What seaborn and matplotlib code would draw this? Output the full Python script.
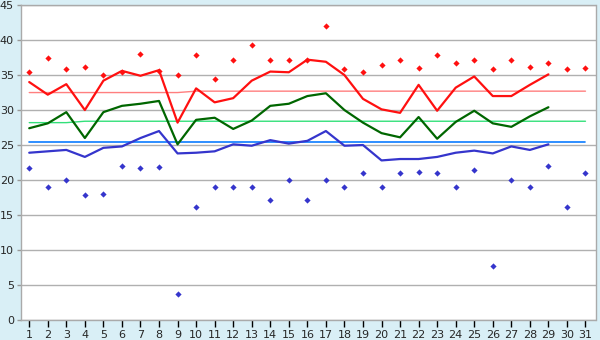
import numpy as np
import pandas as pd
import matplotlib
matplotlib.use('Agg')
import matplotlib.pyplot as plt
import seaborn as sns

# Daily values
days = list(range(1, 32))
days_line = list(range(1, 30))

t_max_line = [34.0, 32.2, 33.7, 30.0, 34.2, 35.6, 34.9, 35.7, 28.2, 33.1,
              31.1, 31.7, 34.2, 35.5, 35.4, 37.2, 36.9, 35.0, 31.6, 30.1,
              29.6, 33.6, 29.9, 33.2, 34.8, 32.0, 32.0, 33.6, 35.1]
t_mean_line = [27.4, 28.1, 29.7, 26.0, 29.7, 30.6, 30.9, 31.3, 25.1, 28.6,
               28.9, 27.3, 28.5, 30.6, 30.9, 32.0, 32.4, 30.0, 28.2, 26.7,
               26.1, 29.0, 25.9, 28.3, 29.9, 28.1, 27.6, 29.1, 30.4]
t_min_line = [23.9, 24.1, 24.3, 23.3, 24.6, 24.8, 26.0, 27.0, 23.8, 23.9,
              24.1, 25.1, 24.9, 25.7, 25.2, 25.6, 27.0, 24.9, 25.0, 22.8,
              23.0, 23.0, 23.3, 23.9, 24.2, 23.8, 24.8, 24.3, 25.1]

max_points = [35.5, 37.4, 35.8, 36.2, 35.0, 35.5, 38.0, 35.6, 35.0, 37.8,
              34.4, 37.2, 39.3, 37.2, 37.2, 37.2, 42.0, 35.8, 35.5, 36.4,
              37.2, 36.0, 37.8, 36.7, 37.2, 35.8, 37.2, 36.2, 36.7, 35.8, 36.0]
min_points = [21.7, 19.0, 20.0, 17.8, 18.0, 22.0, 21.7, 21.8, 3.7, 16.1,
              19.0, 19.0, 19.0, 17.2, 20.0, 17.2, 20.0, 19.0, 21.0, 19.0,
              21.0, 21.2, 21.0, 19.0, 21.4, 7.7, 20.0, 19.0, 22.0, 16.2, 21.0]

normal_max = [32.5] * 9 + [32.7] * 22
normal_mean = [28.2] * 3 + [28.4] * 28
normal_min = [25.4] * 31

lines = pd.DataFrame({'day': days_line, 'max': t_max_line,
                      'mean': t_mean_line, 'min': t_min_line})
points = pd.DataFrame({'day': days, 'max': max_points, 'min': min_points,
                       'nmax': normal_max, 'nmean': normal_mean, 'nmin': normal_min})

sns.set_style('white')
plt.rcParams['font.family'] = ['DejaVu Sans']

bg = '#d9eff6'
fig = plt.figure(figsize=(6, 3.4), dpi=100, facecolor=bg)
ax = fig.add_axes([0.0345, 0.059, 0.958, 0.926])
ax.set_facecolor('white')

# normals
sns.lineplot(data=points, x='day', y='nmax', color='#ff7f7f', linewidth=1, ax=ax)
sns.lineplot(data=points, x='day', y='nmean', color='#33e07a', linewidth=1, ax=ax)
sns.lineplot(data=points, x='day', y='nmin', color='#0a7cff', linewidth=1.2, ax=ax)

# daily lines
sns.lineplot(data=lines, x='day', y='max', color='#ff1010', linewidth=1.6, ax=ax)
sns.lineplot(data=lines, x='day', y='mean', color='#006600', linewidth=1.6, ax=ax)
sns.lineplot(data=lines, x='day', y='min', color='#3535cc', linewidth=1.6, ax=ax)

# extremes
sns.scatterplot(data=points, x='day', y='max', color='#ff1010', marker='D',
                s=10, linewidth=0, ax=ax)
sns.scatterplot(data=points, x='day', y='min', color='#3535cc', marker='D',
                s=10, linewidth=0, ax=ax)

ax.set_xlim(0.54, 31.54)
ax.set_ylim(0, 45)
ax.set_xticks(days)
ax.set_yticks(range(0, 46, 5))
ax.set_xlabel('')
ax.set_ylabel('')
ax.grid(axis='y', color='#b0b0b0', linewidth=1)
ax.set_axisbelow(True)
for s in ax.spines.values():
    s.set_color('#aaaaaa')
    s.set_linewidth(1)
ax.tick_params(axis='x', direction='out', length=5, width=1, color='black',
               labelsize=8, pad=2, bottom=True)
ax.tick_params(axis='y', direction='out', length=3, width=1, color='#999999',
               labelsize=8, pad=2, left=True)

fig.savefig('out.png', dpi=100, facecolor=bg)
